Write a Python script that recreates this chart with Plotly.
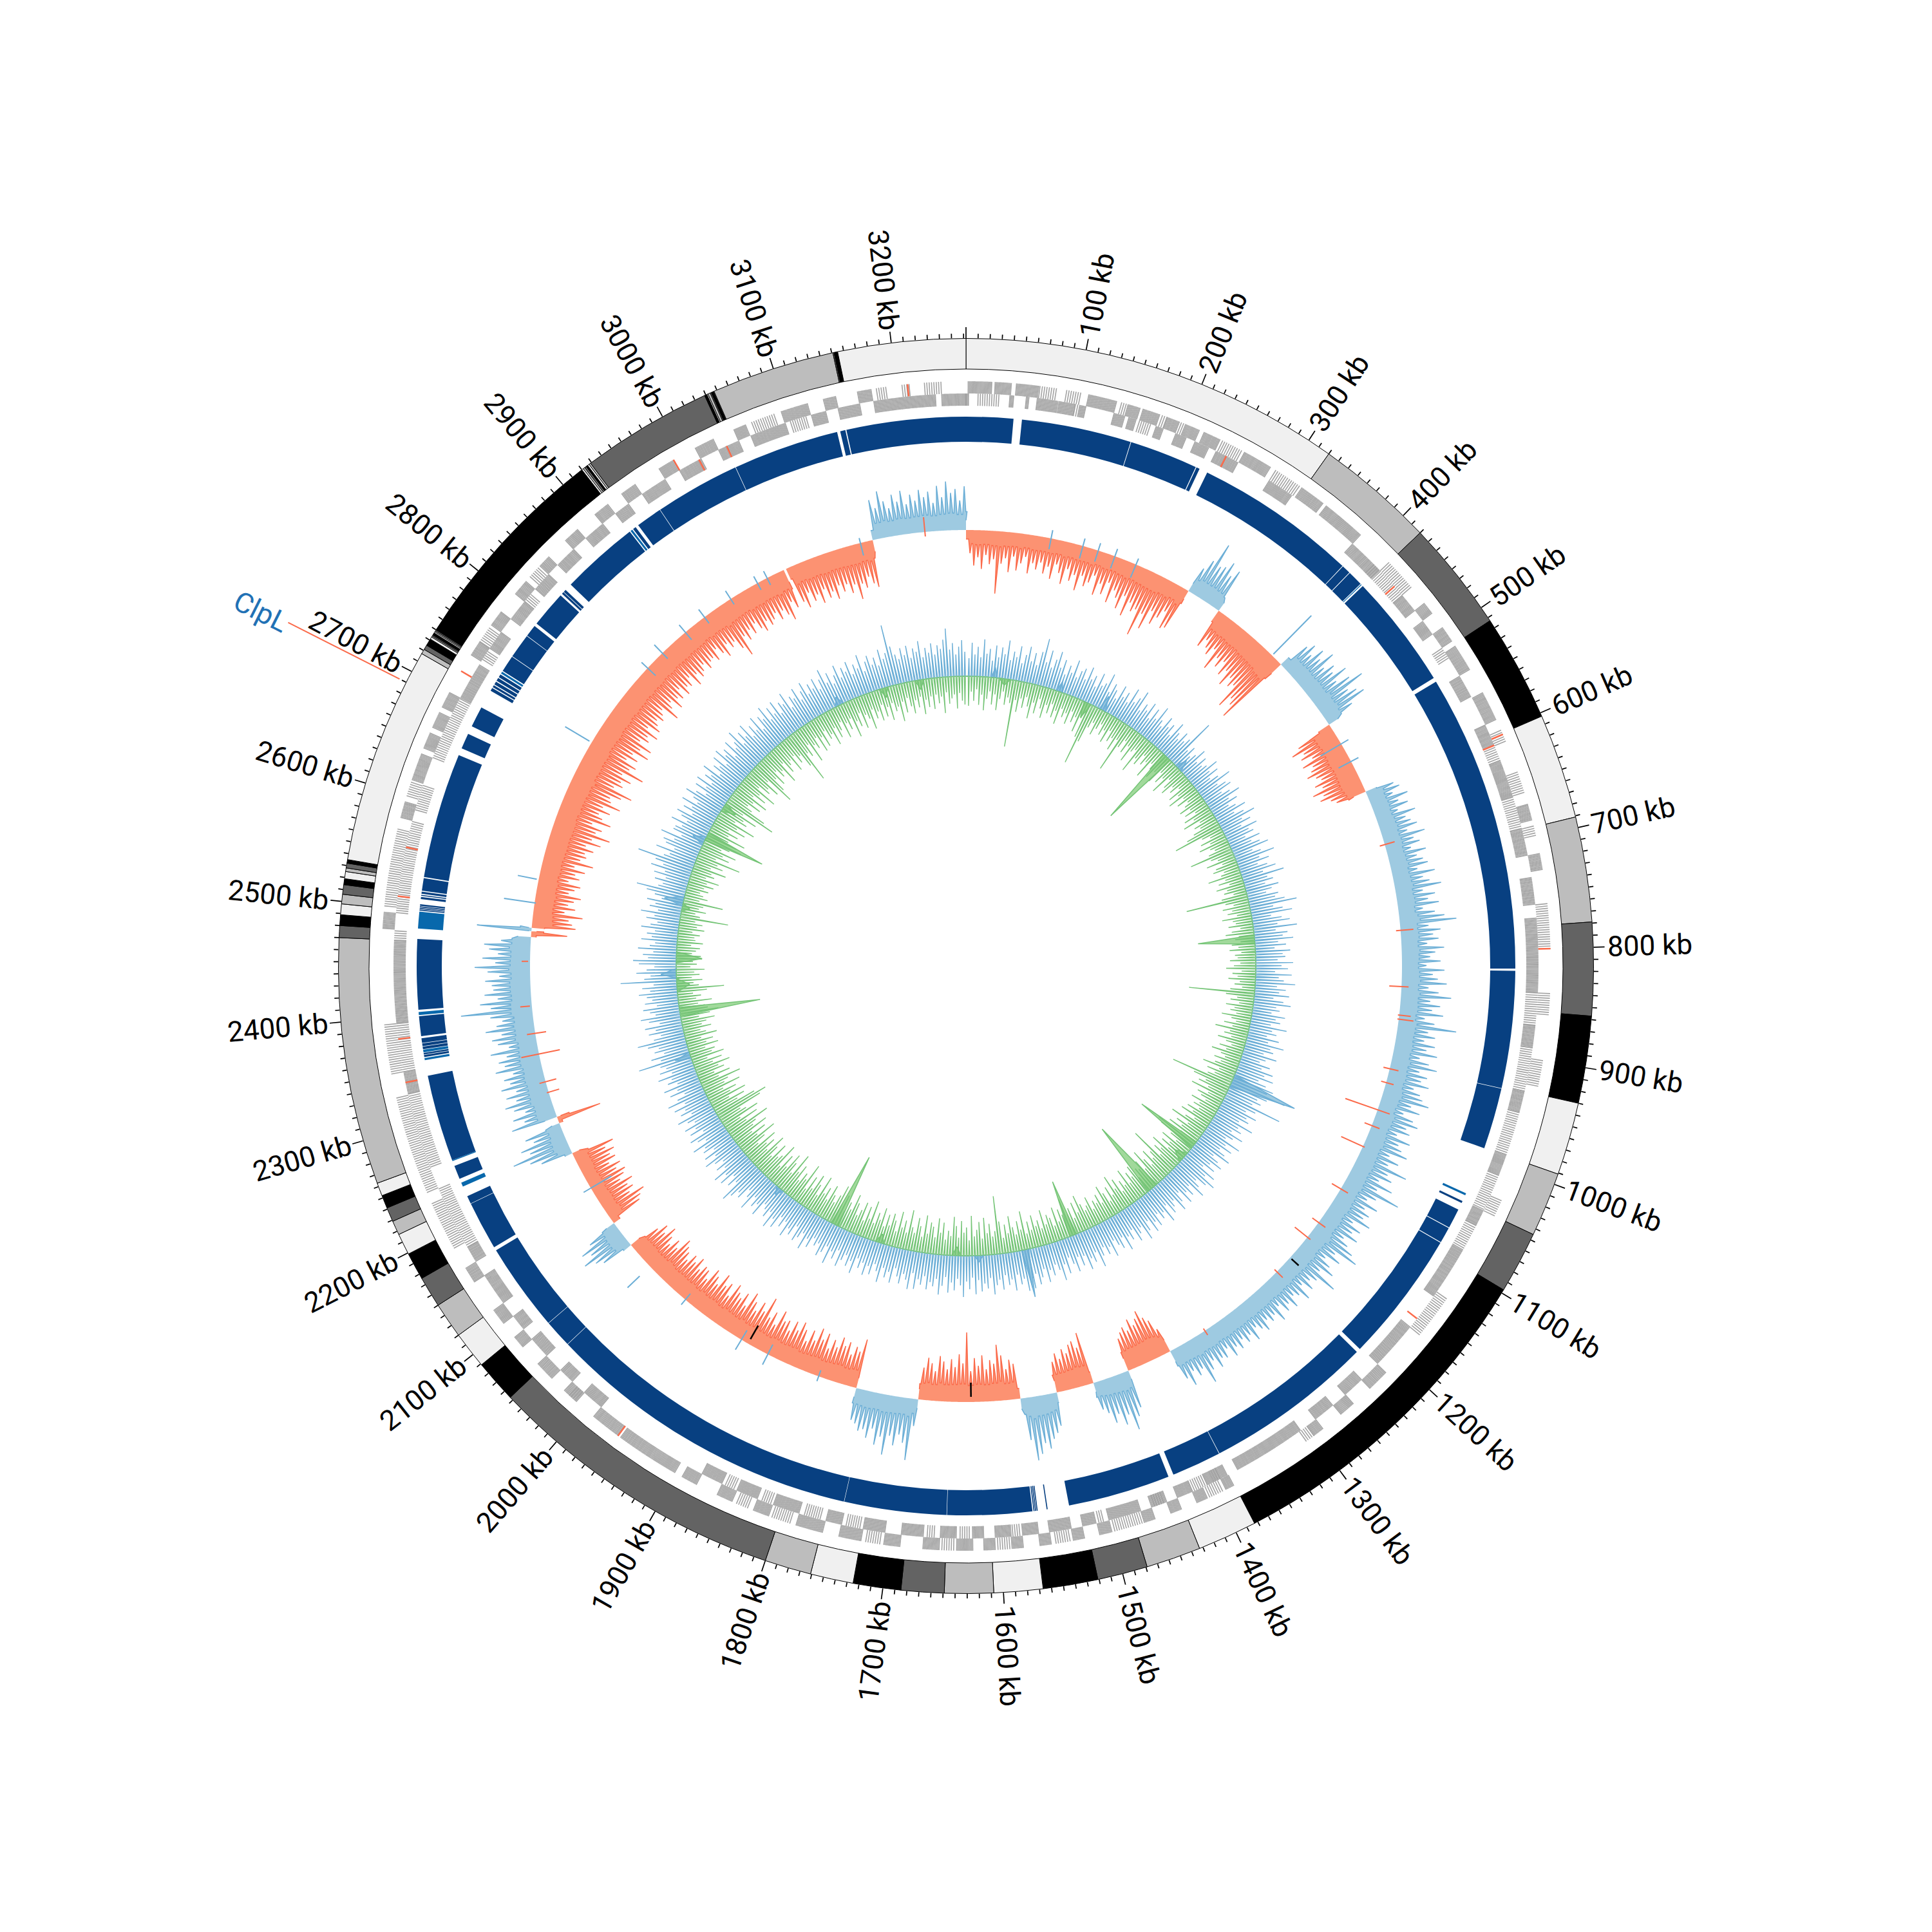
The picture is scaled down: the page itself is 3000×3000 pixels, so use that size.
import math
import plotly.graph_objects as go

GENOME_KB = 3262
tick_labels_kb = list(range(100, 3300, 100))
label_gene = "ClpL"
label_gene_kb = 2690

# ideogram band edges (kb); shades cycle light, mid, dark, black
band_edges = [0,320,420,513,603,691,779,857,930,991,1045,1097,1383,1433,1479,1521,1567,1608,1649,1685,1725,1761,1800,
 2053,2089,2120,2150,2176,2199,2217,2229,2241,2252,2263,2470,2480,2489,2498,2506,2514,2519,2525,2528,2532,2535,
 2717,2721,2725,2731,2733,2734,2735,2737,2738,2739,2740,2920,2921.5,2923,2924.5,2926,2927.5,2929,3039,3041,3042,3044,3045,3047,3047.5,3151,3152,3155,3262]

# synteny band blocks: start, end kb
block_start = [0,53,158.6,224.8,236,392.6,401.6,419,533,820,932.5,1045,1054,1073.8,1089.7,1220,1382.5,1435,1553.5,1563,1564.5,1566,1568,1649.4,1747.4,2052.4,2079.4,2167.5,2214.4,2240,2259,2360,2362.5,2367.5,2370.5,2373.5,2380,2405,2499,2500.5,2502,2503.5,2510,2513,2515,2518,2531,2658,2681,2719,2723,2726,2730,2734,2741,2757.5,2781.5,2796,2833,2835.5,2845,2924,2930,2955.5,3037.5,3142,3148]
block_end   = [45,158,224,228,392,401,416,529,818,932,991,1047,1073,1089,1216,1382,1430,1533,1554.5,1564,1565.5,1567,1649,1747,2052,2079,2164,2214,2222,2253,2342,2362,2364,2370,2373,2378,2399,2472,2500,2501.5,2503,2505,2512,2514,2517,2530,2651,2673,2701,2722,2725,2729,2733,2737,2757,2781,2793,2831,2835,2838,2920,2927,2955,3037,3139,3147,3262]
alt_block_start = [416.7,1037,2232,2258,2357,2364.5,2400,2482,2738,2921]
alt_block_end   = [417.5,1039,2236,2259,2359,2367,2403,2498,2740,2923]

# gene runs by strand (kb)
genes_out = [(2,23),(26,41),(45,65),(110,136),(146,158),(160,176),(183,195),(200,214),(218,234),(258,285),(318,342),(345,385),(468,480),(495,510),(515,540),(563,590),(670,685),(715,730),(1215,1235),(1255,1270),(1290,1300),(1384,1392),(1410,1420),(1435,1445),(1460,1470),(1500,1512),(1525,1535),(1555,1565),(1580,1590),(1605,1615),(1625,1640),(1655,1670),(1690,1705),(1725,1745),(1760,1785),(1810,1825),(1845,1860),(1880,1895),(1902,1960),(1962,1990),(2010,2025),(2040,2058),(2078,2090),(2105,2120),(2150,2165),(2480,2495),(2580,2595),(2615,2640),(2645,2660),(2665,2680),(2685,2700),(2738,2752),(2770,2785),(2805,2820),(2838,2850),(2870,2885),(2905,2920),(2935,2950),(2975,2990),(3012,3030),(3050,3062),(3095,3120),(3134,3145),(3165,3178)]
genes_in = [(0,3),(40,44),(55,58),(65,84),(85,100),(104,110),(136,146),(150,157),(176,183),(195,205),(214,228),(235,258),(290,315),(385,420),(450,468),(480,495),(540,562),(590,610),(625,660),(690,715),(735,760),(772,840),(870,890),(930,950),(990,1010),(1045,1060),(1085,1135),(1170,1215),(1235,1255),(1270,1290),(1307,1375),(1385,1405),(1420,1435),(1445,1460),(1470,1500),(1512,1525),(1535,1555),(1565,1580),(1590,1605),(1615,1625),(1640,1655),(1670,1690),(1705,1725),(1745,1760),(1785,1810),(1825,1845),(1860,1880),(1990,2010),(2025,2040),(2058,2078),(2090,2105),(2120,2150),(2165,2180),(2330,2350),(2395,2470),(2700,2735),(2752,2770),(2785,2805),(2820,2838),(2850,2870),(2885,2905),(2920,2935),(2950,2975),(2990,3012),(3030,3050),(3062,3095),(3120,3134),(3145,3165),(3178,3235),(3240,3262)]
genes_out_thin = [(66,82),(90,104),(140,146),(178,183),(196,200),(236,256),(290,316),(420,450),(600,612),(640,660),(690,700),(760,800),(840,860),(900,925),(1030,1045),(1130,1170),(1300,1310),(1395,1408),(1472,1498),(1538,1552),(1592,1603),(1642,1654),(1708,1722),(1790,1808),(1830,1842),(2012,2020),(2185,2230),(2240,2330),(2350,2395),(2500,2570),(2600,2614),(2752,2768),(2825,2836),(3067,3090),(3182,3192),(3205,3212),(3225,3240)]
genes_in_thin = [(11,30),(100,104),(160,172),(412,450),(510,522),(610,625),(660,690),(840,870),(890,930),(950,990),(1010,1045),(1060,1085),(1405,1420),(1392,1400),(1448,1458),(1505,1510),(1582,1589),(1628,1638),(1660,1668),(1728,1742),(1765,1780),(1812,1822),(1848,1858),(2180,2240),(2260,2330),(2350,2395),(2470,2480),(2495,2580),(2590,2615),(2640,2700),(2740,2750),(2805,2815),(3100,3115)]
red_genes_out = [604,800,1962,2721,3210,2990]
red_genes_in = [245,439,610,1160,2340,2380,2510,2555,3010,3038]

# outer track sectors: start, end, sign (+1 blue out, -1 red in), trough level
sector_start = [0,278,321,419,511,602,1378,1433,1477,1522,1566,1688,1763,2086,2119,2216,2255,2263,2481,2488,2492,3041]
sector_end   = [278,321,419,511,602,1378,1433,1477,1522,1566,1688,1763,2086,2119,2216,2255,2263,2481,2488,2492,3038,3150]
sector_sign  = [-1,1,-1,1,-1,1,-1,1,-1,1,-1,1,-1,1,-1,1,-1,1,-1,1,-1,-1]
sector_trough= [14,14,20,16,20,18,20,14,18,16,16,14,16,14,12,12,6,20,8,4,20,18]
last_sector_start = [3150]
last_sector_end = [3262]
last_sector_trough = [15]

# outer track spike heights, one per 5 kb
outer_peaks = [
48,36,55,42,60,38,52,44,97,50,41,62,37,58,46,35,60,43,52,40,
56,44,62,38,50,66,41,58,47,70,45,60,52,39,68,48,63,42,72,50,
60,75,52,82,58,70,64,104,66,88,55,74,60,46,72,68,42,60,93,58,
62,74,55,68,40,63,48,58,66,52,84,60,72,58,78,66,88,70,82,75,
112,92,100,119,65,48,58,44,62,50,70,46,60,52,72,48,68,87,55,66,
75,48,50,60,75,58,66,50,70,56,62,72,60,54,68,58,77,62,70,55,
48,45,52,38,60,42,55,36,62,44,50,58,40,66,46,54,38,60,44,52,
58,40,66,46,55,72,42,60,48,64,38,56,70,88,44,62,50,58,40,66,
52,44,60,38,66,48,56,70,42,58,78,46,62,50,68,40,56,91,48,60,
44,62,50,68,42,58,72,46,60,52,66,44,56,62,74,48,64,40,58,68,
52,60,42,66,50,58,70,44,62,48,82,54,64,46,72,50,91,56,44,66,
48,60,54,70,44,62,52,66,46,58,72,85,50,64,42,56,68,48,83,54,
46,58,42,64,50,44,60,48,56,40,62,46,52,44,58,50,42,60,46,54,
44,56,48,60,42,54,50,62,46,58,76,48,56,44,65,50,40,58,66,80,
70,62,74,58,66,60,52,60,72,91,64,78,58,70,52,44,82,60,72,68,
56,64,50,60,48,52,62,70,84,74,90,99,66,47,55,62,48,70,87,58,
64,50,72,56,68,48,108,60,74,54,66,50,62,70,46,58,66,50,42,96,
70,58,76,62,93,66,80,56,72,60,64,54,50,77,56,62,48,66,58,70,
52,62,46,68,56,72,50,64,44,60,70,54,66,48,62,58,72,46,64,52,
82,56,68,50,62,74,48,66,54,60,70,46,64,56,72,50,60,68,46,58,
60,50,66,54,62,48,58,64,72,50,60,46,56,68,52,62,48,75,50,60,
76,58,70,50,46,54,60,70,48,58,52,64,46,56,62,50,60,44,58,52,
62,50,66,82,50,66,91,60,72,48,59,88,70,73,50,66,44,60,72,52,
66,48,70,54,62,46,72,56,64,50,74,44,60,68,52,76,58,48,66,111,
64,80,52,72,58,60,70,48,66,86,54,74,50,64,72,46,72,56,85,68,
62,56,77,48,64,52,60,70,50,58,66,46,62,54,68,50,78,56,64,60,
72,58,80,64,91,66,74,56,84,68,60,76,62,88,70,66,82,97,64,76,
70,84,66,99,72,80,60,76,64,88,70,86,62,74,68,82,60,78,70,64,
72,66,60,86,70,62,80,66,72,58,74,64,68,56,76,60,70,64,56,68,
60,58,66,50,62,72,54,64,58,74,90,60,70,56,66,52,64,72,58,68,
62,54,68,56,66,77,50,62,84,58,70,48,64,56,72,52,68,60,74,54,
66,56,72,60,85,62,70,54,66,73,50,62,48,73,56,44,64,52,68,46,
60,50,66,54,62,44,70,52,76,58,64,46,68]

# stray spikes: kb, inner offset, outer offset
red_on_blue = [(669,-8,16),(773,-7,20),(840,-19,11),(874,-2,18),(879,-2,23),(939,-10,14),(956,-8,12),(990,-53,20),(1010,-12,13),(1037,-37,3),(1094,-16,13),(1142,-12,13),(1164,-25,6),(1219,-5,13),(1330,-4,8),(3213,-7,23),(2399,3,18),(2366,-17,13),(2341,-33,28),(2307,-17,10),(2294,-17,3),(2452,3,13)]
blue_on_red = [(102,-17,13),(141,-20,12),(160,-18,12),(181,-20,12),(208,-22,10),(404,3,87),(538,-37,13),(562,-22,13),(2169,-37,13),(1912,-17,18),(1876,-17,18),(1994,-12,10),(2052,22,48),(1810,-10,8),(2726,4,48),(2550,3,33),(2522,-2,48),(2837,-17,13),(2862,-12,18),(2899,-15,15),(2928,-12,15),(2966,-10,15),(3003,-12,12),(3016,-12,12),(3135,-20,8)]
black_on_blue = [(1196,3,18)]
black_on_red = [(1625,-30,-8),(1903,-32,-8)]

# inner track spikes, one per 5 kb
inner_blue = [
40,28,52,34,46,30,58,36,44,26,50,32,48,38,60,30,44,36,54,28,
42,56,34,48,30,52,74,38,58,32,46,60,36,50,28,44,34,56,30,42,
48,32,54,36,44,28,52,34,40,58,30,46,38,26,50,34,44,30,56,36,
46,60,30,44,36,52,28,48,34,58,38,30,50,36,44,28,54,40,32,48,
36,44,81,30,40,26,34,48,28,42,30,36,52,34,46,28,40,58,32,44,
50,30,42,56,34,46,28,38,52,30,44,60,36,48,30,54,38,44,28,50,
34,46,58,30,42,62,36,50,30,44,56,34,66,38,46,32,52,40,30,48,
42,56,74,36,50,64,30,46,58,38,68,34,52,44,60,36,48,30,54,42,
46,34,58,40,50,30,56,36,44,62,34,48,38,54,30,46,58,36,42,30,
52,38,46,32,58,36,44,30,50,34,60,40,46,32,54,38,30,48,36,56,
44,60,38,52,66,58,90,62,48,56,44,93,54,40,60,46,52,38,64,42,
50,36,58,44,34,62,40,54,36,48,60,34,46,56,38,50,32,58,44,66,
54,38,48,62,36,50,40,56,32,46,58,36,44,52,34,60,40,48,36,54,
44,58,36,50,62,38,46,56,34,48,40,60,36,52,44,34,58,40,50,36,
48,64,38,52,44,60,36,50,34,56,42,30,54,38,62,44,34,50,40,58,
36,48,58,40,62,60,64,44,52,36,60,42,50,34,56,40,48,62,36,52,
44,56,38,60,34,52,40,64,46,36,54,42,58,34,48,62,38,50,44,56,
36,50,42,58,34,60,46,38,54,44,32,56,40,50,36,60,44,34,52,40,
56,38,48,34,60,42,52,36,46,58,34,50,40,62,36,48,56,38,44,34,
52,40,60,36,46,54,32,50,42,58,36,48,34,56,44,62,38,50,40,34,
58,42,50,36,62,44,34,54,48,60,72,40,52,36,58,44,62,38,50,34,
46,60,38,54,34,50,44,62,36,48,58,32,52,40,56,36,46,60,34,50,
40,56,36,62,44,30,52,38,58,34,48,40,60,36,54,42,50,83,46,60,
38,52,44,60,75,48,36,54,42,58,34,50,62,38,46,56,34,52,40,48,
60,42,54,36,87,50,40,62,46,34,58,67,44,52,36,60,42,34,56,40,
48,36,58,44,34,52,40,62,36,50,42,56,34,46,60,77,44,38,52,36,
56,40,64,46,60,90,50,42,66,38,54,60,44,68,36,52,51,42,62,38,
50,60,36,54,42,62,38,48,64,49,34,56,40,60,36,52,44,62,34,50,
42,58,36,62,46,54,34,60,42,50,66,38,56,44,62,36,52,40,60,34,
54,46,64,38,56,42,60,36,52,46,62,34,50,44,58,36,48,60,38,52,
42,56,36,50,64,40,54,34,46,60,38,52,44,58,36,50,42,62,34,48,
56,40,50,36,60,44,52,95,60,46,38,54,42,56,36,50,44,60,34,48,
40,54,36,50,44,58,75,42,52,34,46,56,38]
inner_green = [
30,46,24,38,20,44,28,52,34,22,42,26,50,32,20,40,28,36,104,30,
48,26,40,22,36,54,28,44,20,34,48,26,38,22,42,30,50,24,36,28,
44,22,38,28,50,26,56,98,60,34,24,42,30,20,36,26,44,22,38,30,
48,28,79,36,22,40,26,50,30,24,60,34,42,22,36,28,52,24,32,44,
30,46,24,40,28,52,22,36,44,26,34,20,42,28,48,24,38,22,30,42,
26,38,22,44,30,50,24,36,28,42,56,78,34,22,40,26,46,30,24,36,
68,36,26,46,22,34,40,24,30,52,26,38,22,44,28,34,20,40,97,36,
24,42,28,36,22,46,30,26,38,20,34,44,24,30,22,36,26,40,22,32,
28,40,24,34,46,22,36,28,42,24,32,20,38,102,44,26,36,22,42,28,
34,24,46,30,22,40,26,52,28,36,24,44,30,20,38,26,48,32,24,40,
28,36,54,26,44,30,40,97,60,38,48,30,56,26,42,34,24,46,30,38,
26,44,32,50,24,38,60,28,46,34,54,30,70,62,40,26,50,32,44,28,
56,36,46,30,80,44,34,52,28,42,60,30,48,36,40,26,50,34,44,28,
54,30,40,24,48,34,58,28,44,22,38,52,26,42,30,36,24,46,34,28,
40,56,30,48,24,42,34,60,36,46,28,52,24,38,44,30,54,26,40,32,
50,28,42,24,60,32,46,26,38,56,30,44,24,50,90,36,28,48,34,58,
26,52,40,30,62,24,44,36,54,28,46,60,30,38,24,50,34,56,26,42,
48,30,58,24,40,52,28,36,62,26,44,32,56,24,40,50,30,46,26,54,
34,44,26,60,30,48,24,52,38,28,46,58,32,42,26,50,34,62,44,30,
40,54,28,46,34,60,26,42,56,30,48,24,64,36,44,28,52,38,66,30,
46,58,32,50,26,62,40,34,54,28,44,60,30,48,36,56,26,42,64,34,
52,30,60,38,46,70,34,56,28,62,44,36,74,86,68,40,54,30,60,36,
48,28,58,34,42,64,30,50,26,44,36,56,30,46,24,52,34,40,26,48,
30,42,24,50,34,26,44,30,38,52,28,46,60,44,40,30,52,28,36,24,
46,73,34,26,40,24,36,28,44,22,32,26,40,38,24,30,36,22,40,28,
26,34,22,40,28,36,24,75,30,22,38,26,32,62,24,36,28,22,34,26,
40,28,46,24,36,30,52,26,44,34,69,28,48,36,56,30,42,60,50,34,
60,30,44,26,52,36,64,28,46,38,58,32,84,66,40,30,50,34,56,28,
48,34,60,26,44,38,54,30,74,56,36,50,28,42,34,58,26,46,36,30,
52,28,44,34,56,84,38,46,28,60,34,42,26,52,30,48,24,40,34,54,
28,46,36,24,52,30,42,26,58,34,44,24,50,30,38,56,26,42,32,48,
24,44,30,52,26,40,34,58,28,46,24,38,50,30,42,26,54,32,44,28,
48,26,40,30,56,24,42,34,28,50,26,38,44]
# broad wedges: start, tip, end kb and height
green_wedge = [(390,398,406,126),(760,766,776,88),(1154,1161,1168,103),(1258,1270,1278,120),(1428,1433,1440,89),(1868,1874,1882,117),(2356,2363,2372,126),(2452,2461,2472,40),(2680,2687,2694,96),
 (218,224,232,25),(3170,3178,3186,15),(3105,3112,3120,15),(2740,2748,2756,22),(1180,1190,1200,18),(1640,1648,1656,14),(1780,1788,1796,14),(2545,2552,2560,12),(2400,2412,2424,20),(60,70,80,10)]
blue_wedge = [(1016,1028,1038,106),(1518,1524,1530,75),(2278,2283,2290,25),(2555,2562,2572,30),(2425,2432,2442,24),(46,51,56,16),(165,170,176,16),(248,253,260,24),(420,426,434,18),(3020,3028,3036,14),(2670,2678,2686,20),(1985,1992,2000,12),(1600,1608,1616,10)]

# ---------- geometry and styling (pixels from the centre) ----------
STEP = 5
PAGE_OFFSET = 8  # the page body adds this margin, so the drawing area is pulled in by it
RMAX = 1500 - PAGE_OFFSET
R_TICK, R_ID0, R_ID1 = 975, 927, 974.5
R_G_IN0, R_G_MID, R_G_OUT1 = 870, 889, 908
R_B0, R_B1 = 814, 853
R_H, R_I = 677, 450
SHADES = ["#f0f0f0", "#bdbdbd", "#636363", "#000000"]
RED, RED_F, BLUE, BLUE_F, GREEN, GREEN_F = "#fb6a4a", "#fc9272", "#6baed6", "#9ecae1", "#74c476", "#a1d99b"
NAVY, TEAL = "#084081", "#0868ac"
GENE = "#a3a3a3"
FONT = "Roboto"


def deg(kb):
    return kb * 360.0 / GENOME_KB


fig = go.Figure()


def bars(starts, ends, r0, r1, colors, line=None):
    fig.add_trace(go.Barpolar(
        theta=[deg((s + e) / 2) for s, e in zip(starts, ends)],
        width=[deg(e - s) for s, e in zip(starts, ends)],
        base=[r0] * len(starts), r=[r1 - r0] * len(starts),
        marker=dict(color=colors, line=line or dict(width=0)),
        hoverinfo="skip", showlegend=False))


def poly(kbs, rs, fill=None, line=None, width=1.5):
    fig.add_trace(go.Scatterpolar(
        theta=[None if k is None else deg(k) for k in kbs], r=rs, mode="lines",
        line=dict(color=line or "rgba(0,0,0,0)", width=width if line else 0),
        fill="toself" if fill else None, fillcolor=fill,
        hoverinfo="skip", showlegend=False))


bars(band_edges[:-1], band_edges[1:], R_ID0, R_ID1,
     [SHADES[i % 4] for i in range(len(band_edges) - 1)], dict(color="#000000", width=1))
bars(block_start, block_end, R_B0, R_B1, [NAVY] * len(block_start))
bars(alt_block_start, alt_block_end, R_B0, R_B1, [TEAL] * len(alt_block_start))

tk, tr = [], []
for kb in range(0, GENOME_KB, 10):
    tk += [kb, kb, None]
    tr += [R_TICK, R_TICK + (17 if kb % 100 == 0 else 7), None]
poly(tk, tr, line="#000000", width=1.7)


def gene_lines(runs, r0, r1, step):
    k, r = [], []
    for s, e in runs:
        x = s
        while x <= e:
            k += [x, x, None]
            r += [r0, r1, None]
            x += step
    return k, r


for runs, r0, r1 in ((genes_out, R_G_MID, R_G_OUT1), (genes_in, R_G_IN0, R_G_MID)):
    k, r = gene_lines(runs, r0, r1, 1.1)
    poly(k, r, line=GENE, width=1.7)
for runs, r0, r1 in ((genes_out_thin, R_G_MID, R_G_OUT1), (genes_in_thin, R_G_IN0, R_G_MID)):
    k, r = gene_lines(runs, r0, r1, 2.1)
    poly(k, r, line=GENE, width=1.6)
k, r = [], []
for x in red_genes_out:
    k += [x, x, None]
    r += [R_G_MID, R_G_OUT1, None]
for x in red_genes_in:
    k += [x, x, None]
    r += [R_G_IN0, R_G_MID, None]
poly(k, r, line=RED, width=2.5)


def teeth(values, s, e, sign, trough, base, share, half):
    """Spike path: each 5 kb slot rises to its value over half kb, then drops to a valley."""
    k, r = [s], [base + sign * trough]
    for i, v in enumerate(values):
        x = i * STEP
        if s + half < x < e - half:
            nxt = values[i + 1] if i + 1 < len(values) else v
            valley = base + sign * (trough + share * min(v, nxt))
            k += [x - half, x, x + half, x + STEP - half]
            r += [r[-1], base + sign * max(v, trough), valley, valley]
    k.append(e)
    r.append(base + sign * trough)
    return k, r


def sector_paths(values, starts, ends, signs, troughs, base, share, half):
    out = {1: ([], [], [], []), -1: ([], [], [], [])}
    for s, e, g, t in zip(starts, ends, signs, troughs):
        k, r = teeth(values, s, e, g, t, base, share, half)
        fk, fr, lk, lr = out[g]
        fk += k + k[::-1] + [None]
        fr += r + [base] * len(k) + [None]
        lk += k + [None]
        lr += r + [None]
    return out


outer = sector_paths(outer_peaks, sector_start + last_sector_start, sector_end + last_sector_end,
                     sector_sign + [1], sector_trough + last_sector_trough, R_H, 0.2, 1.8)
poly(outer[-1][0], outer[-1][1], fill=RED_F)
poly(outer[1][0], outer[1][1], fill=BLUE_F)
poly(outer[-1][2], outer[-1][3], line=RED, width=1.5)
poly(outer[1][2], outer[1][3], line=BLUE, width=1.5)


def strays(items, color, width=2):
    k, r = [], []
    for x, a, b in items:
        k += [x, x, None]
        r += [R_H + a, R_H + b, None]
    poly(k, r, line=color, width=width)


strays(red_on_blue, RED)
strays(blue_on_red, BLUE)
strays(black_on_blue + black_on_red, "#000000", 2.5)

ib = sector_paths(inner_blue, [0], [GENOME_KB], [1], [0], R_I, 0, 1.0)
ig = sector_paths(inner_green, [0], [GENOME_KB], [-1], [0], R_I, 0, 1.0)
for wedges, sign, fc in ((blue_wedge, 1, BLUE_F), (green_wedge, -1, GREEN_F)):
    for s, t, e, h in wedges:
        poly([s, t, e, s], [R_I, R_I + sign * h, R_I, R_I], fill=fc)
poly(ib[1][2], ib[1][3], line=BLUE, width=1.4)
poly(ig[-1][2], ig[-1][3], line=GREEN, width=1.4)
for wedges, sign, lc in ((blue_wedge, 1, BLUE), (green_wedge, -1, GREEN)):
    for s, t, e, h in wedges:
        poly([s, t, e], [R_I, R_I + sign * h, R_I], line=lc, width=1.5)

poly([label_gene_kb, label_gene_kb], [986, 1180], line=RED, width=2)

annotations = []


def place(text, kb, radius, color, size):
    a = math.radians(deg(kb))
    x = (RMAX + radius * math.sin(a)) / 3000
    y = (3000 - RMAX + radius * math.cos(a)) / 3000
    d = deg(kb)
    angle = d - 90 if d < 180 else d + 90 - 360
    annotations.append(dict(text=text, x=x, y=y, xref="paper", yref="paper", xanchor="center", yanchor="middle",
                            showarrow=False, textangle=angle, font=dict(family=FONT, size=size, color=color)))


for kb in tick_labels_kb:
    place(f"{kb} kb", kb, 1062 if kb < 1000 else 1073, "#000000", 44)
place(label_gene, label_gene_kb - 2, 1225, "#2171b5", 44)

fig.update_layout(
    width=3000, height=3000, margin=dict(l=0, r=0, t=0, b=0), autosize=False,
    paper_bgcolor="white", plot_bgcolor="white", showlegend=False, annotations=annotations,
    polar=dict(domain=dict(x=[0, 2 * RMAX / 3000], y=[1 - 2 * RMAX / 3000, 1]), bgcolor="white", barmode="overlay", bargap=0,
               radialaxis=dict(visible=False, range=[0, RMAX]),
               angularaxis=dict(visible=False, direction="clockwise", rotation=90, thetaunit="degrees")))
fig.write_html("out.html")
